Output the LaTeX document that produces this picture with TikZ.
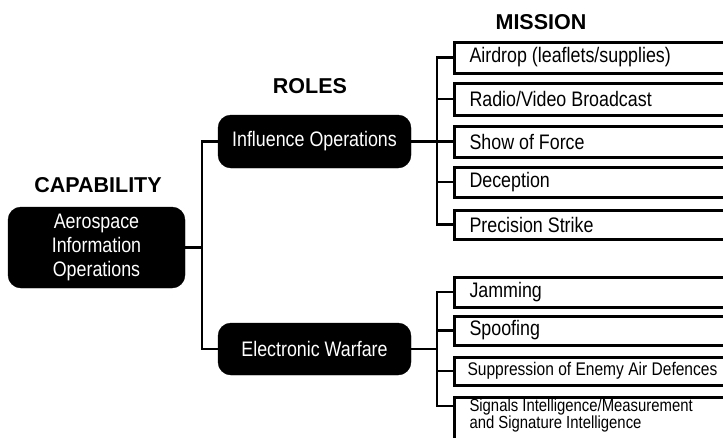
\documentclass[tikz,border=0pt]{standalone}
\usepackage{fontspec}
\setmainfont{Liberation Sans}
\newfontfamily\bodyfont[FakeStretch=0.85]{Liberation Sans}
\begin{document}
\begin{tikzpicture}[x=1pt,y=-1pt,
  head/.style={font=\fontsize{21.5}{24}\selectfont\bfseries, inner sep=0pt},
  dark/.style={fill=black, draw=black, rounded corners=13pt, text=white, align=center,
     font=\bodyfont\fontsize{21}{24}\selectfont, inner sep=0pt},
  mbox/.style={draw=black, line width=3pt, fill=white, anchor=west, minimum width=300pt,
     text width=274pt, align=flush left, inner xsep=15pt, inner ysep=0pt,
     font=\bodyfont\fontsize{21}{24}\selectfont},
  conn/.style={line width=2.6pt}]
\useasboundingbox (0,0) rectangle (723,437);
\clip (0,0) rectangle (723,437);

% headings
\node[head] (hcap) at (98,185) {CAPABILITY};
\node[head] (hrol) at (310,86) {ROLES};
\node[head] (hmis) at (541,22.5) {MISSION};

% capability and roles
\node[dark, minimum width=177pt, minimum height=81pt] (cap) at (96.5,247.5)
  {Aerospace\\Information\\Operations};
\node[dark, minimum width=193pt, minimum height=53pt] (io) at (314.5,141.5) {Influence Operations};
\node[dark, minimum width=193pt, minimum height=52pt] (ew) at (314.5,349) {Electronic Warfare};

% missions: influence operations
\node[mbox, minimum height=31pt] (m1) at (453,57.5) {Airdrop (leaflets/supplies)};
\node[mbox, minimum height=32pt] (m2) at (453,99) {Radio/Video Broadcast};
\node[mbox, minimum height=31pt] (m3) at (453,141.5) {Show of Force};
\node[mbox, minimum height=30pt] (m4) at (453,182) {Deception};
\node[mbox, minimum height=29pt] (m5) at (453,224.5) {Precision Strike};

% missions: electronic warfare
\node[mbox, minimum height=30pt] (e1) at (453,292) {Jamming};
\node[mbox, minimum height=29pt] (e2) at (453,330.5) {Spoofing};
\node[mbox, minimum height=28pt, inner xsep=13pt, font=\bodyfont\fontsize{18.3}{20}\selectfont] (e3) at (453,371) {Suppression of Enemy Air Defences};
\node[mbox, anchor=north west, minimum height=0pt, inner ysep=1pt, text depth=40pt,
  font=\bodyfont\fontsize{17.5}{16}\selectfont] (e4) at (453,396)
  {Signals Intelligence/Measurement\\and Signature Intelligence};

% connectors
\coordinate (ls) at (202,247.5);
\coordinate (ts) at (437,141.5);
\coordinate (bs) at (437,349);
\coordinate (e4t) at (453,406);

\draw[conn] (cap.east) -- (ls);
\draw[conn] (io.west) -| (ls);
\draw[conn] (ew.west) -| (ls);

\draw[conn] (io.east) -- (ts);
\foreach \m in {m1,m2,m3,m4,m5} \draw[conn] (\m.west) -| (ts);

\draw[conn] (ew.east) -- (bs);
\foreach \m in {e1,e2,e3} \draw[conn] (\m.west) -| (bs);
\draw[conn] (e4t) -| (bs);
\end{tikzpicture}
\end{document}
